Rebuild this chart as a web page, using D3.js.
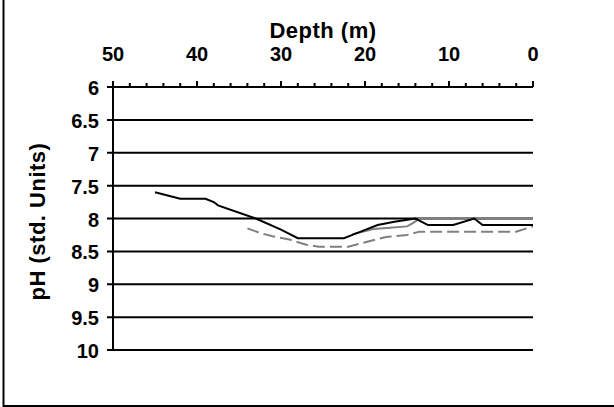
<!DOCTYPE html>
<html>
<head>
<meta charset="utf-8">
<script src="https://cdn.jsdelivr.net/npm/d3@7"></script>
<style>
  body { margin: 0; background: #fff; }
  svg { display: block; font-family: 'Liberation Sans', Arial, sans-serif; font-weight: bold; }
</style>
</head>
<body>
<div id="chart"></div>
<script>
// pH readings against depth
const blackDepth = [45, 42, 39, 38, 37.5, 33, 30, 28, 22.5, 21.5, 20.5, 18.5, 16.5, 14, 12.5, 9.5, 7, 6, 0]
const blackPH = [7.6, 7.7, 7.7, 7.75, 7.8, 8.0, 8.17, 8.3, 8.3, 8.25, 8.2, 8.1, 8.05, 8.0, 8.1, 8.1, 8.0, 8.1, 8.1]

const greyDepth = [21.5, 19, 17, 15, 14.3, 13.5, 0]
const greyPH = [8.24, 8.16, 8.14, 8.12, 8.07, 8.0, 8.0]

const dashDepth = [34, 32.5, 31, 29, 27, 25.5, 22, 20.5, 17.5, 15, 13.5, 2, 0]
const dashPH = [8.15, 8.22, 8.27, 8.32, 8.4, 8.43, 8.43, 8.38, 8.28, 8.25, 8.2, 8.2, 8.12]

const depthTicks = [50, 40, 30, 20, 10, 0]
const phTicks = [6, 6.5, 7, 7.5, 8, 8.5, 9, 9.5, 10]

const width = 614
const height = 407
const plot = { left: 113, right: 533, top: 87, bottom: 350 }

let x = d3.scaleLinear().domain([50, 0]).range([plot.left, plot.right])
let y = d3.scaleLinear().domain([6, 10]).range([plot.top, plot.bottom])

const svg = d3.select('#chart').append('svg')
    .attr('width', width)
    .attr('height', height)

// outer frame (only left and bottom edges show)
svg.append('rect')
    .attr('x', 3.5)
    .attr('y', -10)
    .attr('width', 700)
    .attr('height', 416)
    .style('fill', 'none')
    .style('stroke', '#000')
    .style('stroke-width', 2)

// horizontal grid lines + left ticks
svg.append('g')
    .selectAll('line')
    .data(phTicks)
    .enter().append('line')
    .attr('x1', plot.left - 6)
    .attr('x2', plot.right)
    .attr('y1', d => y(d))
    .attr('y2', d => y(d))
    .style('stroke', '#000')
    .style('stroke-width', 2)

// y axis line
svg.append('line')
    .attr('x1', plot.left)
    .attr('x2', plot.left)
    .attr('y1', plot.top)
    .attr('y2', plot.bottom)
    .style('stroke', '#000')
    .style('stroke-width', 2)

// top axis ticks (minor every 2 m, major every 10 m)
svg.append('g')
    .selectAll('line')
    .data(d3.range(0, 51, 2).concat(depthTicks))
    .enter().append('line')
    .attr('x1', d => x(d))
    .attr('x2', d => x(d))
    .attr('y1', plot.top)
    .attr('y2', d => plot.top - (d % 10 === 0 ? 6 : 4))
    .style('stroke', '#000')
    .style('stroke-width', 2)

svg.append('g')
    .selectAll('text')
    .data(depthTicks)
    .enter().append('text')
    .attr('x', d => x(d))
    .attr('y', 61)
    .attr('text-anchor', 'middle')
    .style('font-size', '20px')
    .text(d => d)

svg.append('g')
    .selectAll('text')
    .data(phTicks)
    .enter().append('text')
    .attr('x', 99)
    .attr('y', d => y(d) + 8)
    .attr('text-anchor', 'end')
    .style('font-size', '20px')
    .text(d => d)

svg.append('text')
    .attr('x', 323)
    .attr('y', 38)
    .attr('text-anchor', 'middle')
    .style('font-size', '22px')
    .style('letter-spacing', '0.5px')
    .text('Depth (m)')

svg.append('text')
    .attr('transform', 'translate(45,' + ((plot.top + plot.bottom) / 2 + 3) + ') rotate(-90)')
    .attr('text-anchor', 'middle')
    .style('font-size', '22px')
    .style('letter-spacing', '0.5px')
    .text('pH (std. Units)')

let line = d3.line()
    .x(d => x(d[0]))
    .y(d => y(d[1]))

let series = [
    { pts: d3.zip(dashDepth, dashPH), colour: '#808080', dash: '12,5' },
    { pts: d3.zip(greyDepth, greyPH), colour: '#808080', dash: null },
    { pts: d3.zip(blackDepth, blackPH), colour: '#000', dash: null }
]

svg.append('g')
    .selectAll('path')
    .data(series)
    .enter().append('path')
    .attr('d', d => line(d.pts))
    .style('fill', 'none')
    .style('stroke', d => d.colour)
    .style('stroke-width', 2)
    .style('stroke-dasharray', d => d.dash)
</script>
</body>
</html>
